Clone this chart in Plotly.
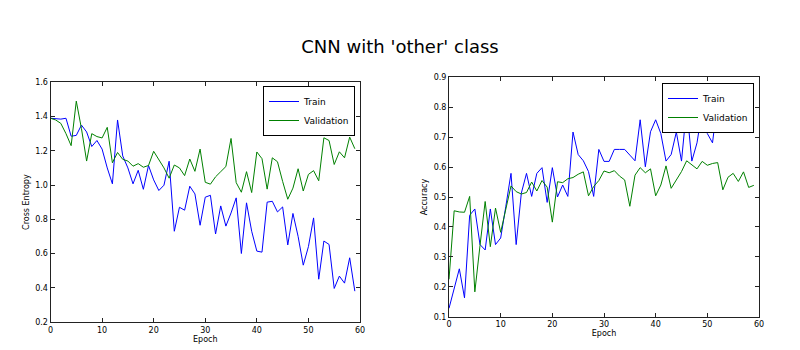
import plotly.graph_objects as go
from plotly.subplots import make_subplots

epochs = list(range(60))

loss_train = [1.39, 1.386, 1.385, 1.39, 1.285, 1.29, 1.35, 1.31, 1.225, 1.26,
              1.21, 1.10, 1.007, 1.38, 1.17, 1.10, 1.007, 1.086, 0.975, 1.114,
              1.03, 0.968, 0.999, 1.139, 0.73, 0.87, 0.853, 0.993, 0.948, 0.765,
              0.929, 0.94, 0.714, 0.878, 0.76, 0.837, 0.925, 0.6, 0.896, 0.73,
              0.614, 0.608, 0.90, 0.905, 0.843, 0.872, 0.65, 0.834, 0.70, 0.532,
              0.64, 0.808, 0.45, 0.673, 0.653, 0.396, 0.468, 0.427, 0.575, 0.38]

loss_val = [1.39, 1.38, 1.36, 1.30, 1.23, 1.49, 1.33, 1.14, 1.30, 1.283,
            1.275, 1.337, 1.13, 1.19, 1.15, 1.14, 1.11, 1.125, 1.104, 1.114,
            1.197, 1.152, 1.10, 1.04, 1.117, 1.10, 1.055, 1.152, 1.08, 1.21,
            1.016, 1.005, 1.048, 1.078, 1.108, 1.272, 1.014, 0.958, 1.078, 0.956,
            1.193, 1.154, 0.976, 1.159, 1.136, 1.021, 0.917, 0.982, 1.095, 0.965,
            1.062, 1.084, 1.025, 1.276, 1.26, 1.12, 1.194, 1.159, 1.28, 1.212]

acc_train = [0.128, 0.192, 0.26, 0.163, 0.439, 0.46, 0.341, 0.323, 0.46, 0.341,
             0.363, 0.469, 0.579, 0.341, 0.513, 0.579, 0.502, 0.579, 0.598, 0.482,
             0.598, 0.50, 0.54, 0.502, 0.717, 0.642, 0.621, 0.585, 0.502, 0.659,
             0.619, 0.619, 0.659, 0.659, 0.659, 0.64, 0.621, 0.758, 0.601, 0.718,
             0.758, 0.712, 0.62, 0.642, 0.717, 0.62, 0.80, 0.62, 0.681, 0.79,
             0.712, 0.681, 0.82, 0.742, 0.78, 0.80, 0.82, 0.80, 0.83, 0.82]

acc_val = [0.225, 0.454, 0.45, 0.449, 0.502, 0.183, 0.338, 0.485, 0.334, 0.463,
           0.382, 0.457, 0.537, 0.518, 0.51, 0.515, 0.55, 0.52, 0.555, 0.533,
           0.416, 0.551, 0.548, 0.561, 0.565, 0.576, 0.584, 0.504, 0.535, 0.555,
           0.587, 0.581, 0.588, 0.57, 0.557, 0.469, 0.573, 0.598, 0.581, 0.594,
           0.504, 0.54, 0.604, 0.529, 0.557, 0.585, 0.621, 0.607, 0.594, 0.619,
           0.606, 0.612, 0.615, 0.524, 0.566, 0.579, 0.552, 0.584, 0.532, 0.539]

loss_ticks = [0.2, 0.4, 0.6, 0.8, 1.0, 1.2, 1.4, 1.6]
acc_ticks = [0.1, 0.2, 0.3, 0.4, 0.5, 0.6, 0.7, 0.8, 0.9]
epoch_ticks = [0, 10, 20, 30, 40, 50, 60]

BLUE = "#0000ff"
GREEN = "#008000"
FONT = "DejaVu Sans"
BLACK = "#000000"

fig = make_subplots(rows=1, cols=2)

fig.add_trace(go.Scatter(x=epochs, y=loss_train, mode="lines", name="Train",
                         line=dict(color=BLUE, width=1), legend="legend"), row=1, col=1)
fig.add_trace(go.Scatter(x=epochs, y=loss_val, mode="lines", name="Validation",
                         line=dict(color=GREEN, width=1), legend="legend"), row=1, col=1)
fig.add_trace(go.Scatter(x=epochs, y=acc_train, mode="lines", name="Train",
                         line=dict(color=BLUE, width=1), legend="legend2"), row=1, col=2)
fig.add_trace(go.Scatter(x=epochs, y=acc_val, mode="lines", name="Validation",
                         line=dict(color=GREEN, width=1), legend="legend2"), row=1, col=2)

axis_common = dict(showline=True, linecolor="#222222", linewidth=1, mirror="ticks",
                   ticks="inside", ticklen=4, tickwidth=1, tickcolor="#222222",
                   showgrid=False, zeroline=False, automargin=False,
                   tickfont=dict(family=FONT, size=8, color=BLACK))
title_font = dict(family=FONT, size=8, color=BLACK)

fig.update_xaxes(domain=[50.5 / 800, 360 / 800], range=[0, 60], tickvals=epoch_ticks,
                 title=dict(text="Epoch", font=title_font, standoff=2),
                 row=1, col=1, **axis_common)
fig.update_yaxes(domain=[1 - 322 / 350, 1 - 82.3 / 350], range=[0.2, 1.6], tickvals=loss_ticks,
                 ticktext=[f"{v:.1f}" for v in loss_ticks],
                 title=dict(text="Cross Entropy", font=title_font, standoff=4),
                 row=1, col=1, **axis_common)
fig.update_xaxes(domain=[449 / 800, 759 / 800], range=[0, 60], tickvals=epoch_ticks,
                 title=dict(text="Epoch", font=title_font, standoff=2),
                 row=1, col=2, **axis_common)
fig.update_yaxes(domain=[1 - 316.7 / 350, 1 - 77.3 / 350], range=[0.1, 0.9], tickvals=acc_ticks,
                 ticktext=[f"{v:.1f}" for v in acc_ticks],
                 title=dict(text="Accuracy", font=title_font, standoff=4),
                 row=1, col=2, **axis_common)

legend_common = dict(bgcolor="#ffffff", bordercolor=BLACK, borderwidth=1,
                     font=dict(family=FONT, size=9, color=BLACK),
                     xanchor="right", yanchor="top", tracegroupgap=0, itemwidth=30)

fig.update_layout(
    width=800, height=350,
    margin=dict(l=0, r=0, t=0, b=0, autoexpand=False),
    paper_bgcolor="#ffffff", plot_bgcolor="#ffffff",
    title=dict(text="CNN with 'other' class", x=0.5, xanchor="center",
               y=1 - 47 / 350, yanchor="middle",
               font=dict(family=FONT, size=18, color=BLACK)),
    legend=dict(x=355 / 800, y=1 - 86 / 350, **legend_common),
    legend2=dict(x=754 / 800, y=1 - 83 / 350, **legend_common),
    showlegend=True,
)

fig.write_html("out.html")
